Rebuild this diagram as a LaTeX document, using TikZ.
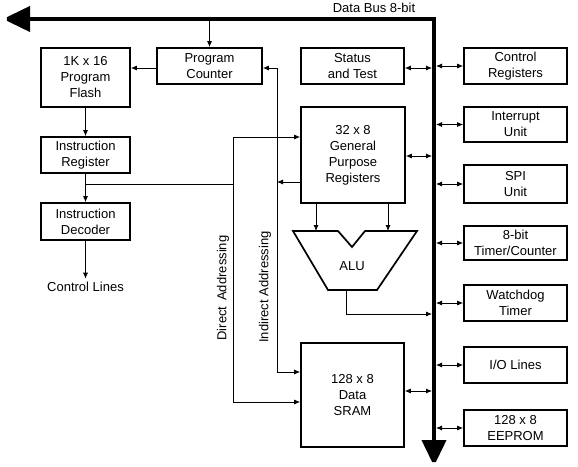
\documentclass[tikz,border=0pt]{standalone}
\usepackage{fontspec}
\setmainfont{Liberation Sans}
\usetikzlibrary{arrows.meta}

\begin{document}
\begin{tikzpicture}[x=1pt, y=-1pt,
	every node/.style={font=\fontsize{13}{16}\selectfont, align=center},
	blk/.style={draw, line width=1.7pt, inner sep=0pt},
	unit/.style={blk, minimum width=103pt, minimum height=36pt},
	wire/.style={line width=0.8pt},
	sarr/.style={wire, -{Latex[length=6pt,width=5pt]}},
	darr/.style={wire, {Latex[length=6pt,width=5pt]}-{Latex[length=6pt,width=5pt]}}]
	\useasboundingbox (0,0) rectangle (578,466);

	\coordinate (busL) at (3,19);
	\coordinate (bus) at (434,19);
	\coordinate (busE) at (434,466);
	\draw [line width=4pt, miter limit=2, {Triangle[length=27pt, width=25pt]}-{Triangle[length=26pt, width=24pt]}] (busL) -- (bus) -- (busE);
	\node (buslbl) at (374,8) {Data Bus 8-bit};

	\node [blk, minimum width=89pt, minimum height=59pt] (flash) at (85.5,77.5) {1K x 16\\Program\\Flash};
	\node [blk, minimum width=105pt, minimum height=36pt] (pc) at (209.5,66) {Program\\Counter};
	\node [blk, minimum width=89pt, minimum height=36pt] (ir) at (85.5,155) {Instruction\\Register};
	\node [blk, minimum width=89pt, minimum height=37pt] (dec) at (85.5,221.5) {Instruction\\Decoder};
	\node (ctl) at (85.5,287) {Control Lines};

	\node [unit] (status) at (352.5,66) {Status\\and Test};
	\node [blk, minimum width=104pt, minimum height=96pt] (gpr) at (353,155) {32 x 8\\General\\Purpose\\Registers};
	\node [blk, minimum width=103pt, minimum height=104pt] (sram) at (352.5,395) {128 x 8\\Data\\SRAM};

	\node [unit] (ctrl) at (515.5,66) {Control\\Registers};
	\node [unit, minimum height=35pt] (intr) at (515.5,124.5) {Interrupt\\Unit};
	\node [unit, minimum height=38pt] (spi) at (515.5,184) {SPI\\Unit};
	\node [unit, minimum height=34pt] (timer) at (515.5,243) {8-bit\\Timer/Counter};
	\node [unit] (wdog) at (515.5,303) {Watchdog\\Timer};
	\node [unit] (io) at (515.5,365) {I/O Lines};
	\node [unit] (eeprom) at (515.5,428) {128 x 8\\EEPROM};

	\coordinate (aluTL) at (293,231);
	\coordinate (aluA) at (316,231);
	\coordinate (aluTR) at (417,231);
	\coordinate (aluB) at (388,231);
	\coordinate (aluBL) at (328,290);
	\coordinate (aluBR) at (377,290);
	\coordinate (aluout) at (346,290);
	\draw [line width=1.7pt, line join=miter] (aluTL) -- (338,231) -- (352,247) -- (365,231) -- (aluTR) -- (aluBR) -- (aluBL) -- cycle;
	\node (alu) at (352,266) {ALU};

	\draw [sarr, shorten <=2pt] (pc.north |- bus) -- (pc.north);
	\draw [sarr] (pc.west |- 0,68) -- (flash.east |- 0,68);
	\draw [sarr] (flash) -- (ir);
	\draw [sarr] (ir) -- (dec);
	\draw [sarr] (dec) -- (ctl);

	\coordinate (ind) at (277,372);
	\coordinate (indsplit) at (277,182);
	\draw [darr] (pc.east |- 0,68) -| (ind) -- (ind -| sram.west);
	\draw [sarr] (gpr.west |- indsplit) -- (indsplit);

	\coordinate (dirtop) at (233,137);
	\coordinate (dir) at (233,402);
	\coordinate (irsplit) at (85.5,184);
	\draw [darr] (dirtop -| gpr.west) -- (dirtop) -- (dir) -- (dir -| sram.west);
	\draw [wire] (irsplit) -- (irsplit -| dir);
	\node [rotate=90] (dirlbl) at (223,288) {Direct\, Addressing};
	\node [rotate=90] (indlbl) at (265,287) {Indirect Addressing};

	\draw [sarr] (gpr.south -| aluA) -- (aluA);
	\draw [sarr] (gpr.south -| aluB) -- (aluB);
	\draw [sarr, shorten >=2pt] (aluout) |- (bus |- 0,314);

	\draw [darr, shorten >=2pt] (status.east |- 0,68) -- (bus |- 0,68);
	\draw [darr, shorten >=2pt] (gpr.east |- 0,156) -- (bus |- 0,156);
	\draw [darr, shorten >=2pt] (sram.east |- 0,391) -- (bus |- 0,391);
	\foreach \u in {ctrl, intr, spi, timer, wdog, io, eeprom}
		\draw [darr, shorten <=2pt] (bus |- \u.west) -- (\u.west);
\end{tikzpicture}
\end{document}
